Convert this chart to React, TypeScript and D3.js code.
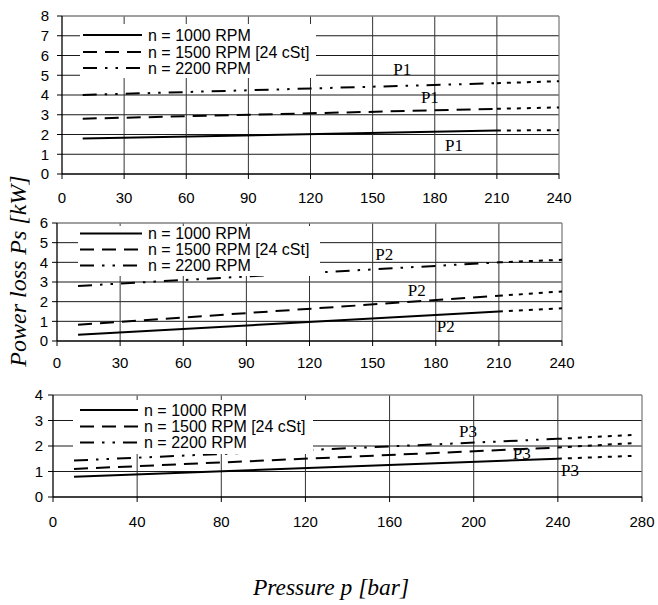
import React from "react";
import * as d3 from "d3";

// ---------- data ----------
const seriesNames = ["n = 1000 RPM", "n = 1500 RPM [24 cSt]", "n = 2200 RPM"];

// Panel 1 (P1)
const p1X = [10, 210];
const p1ExtX = [210, 240];
const p1_1000 = [1.8, 2.2];
const p1_1000Ext = [2.2, 2.22];
const p1_1500 = [2.8, 3.3];
const p1_1500Ext = [3.3, 3.37];
const p1_2200 = [4.0, 4.6];
const p1_2200Ext = [4.6, 4.7];
const p1XTicks = [0, 30, 60, 90, 120, 150, 180, 210, 240];
const p1YTicks = [0, 1, 2, 3, 4, 5, 6, 7, 8];
const p1Labels = [
  { text: "P1", x: 160, y: 5.0 },
  { text: "P1", x: 173.3, y: 3.59 },
  { text: "P1", x: 185, y: 1.18 },
];

// Panel 2 (P2)
const p2X = [10, 210];
const p2ExtX = [210, 240];
const p2_1000 = [0.32, 1.5];
const p2_1000Ext = [1.5, 1.66];
const p2_1500 = [0.83, 2.3];
const p2_1500Ext = [2.3, 2.52];
const p2_2200 = [2.8, 4.0];
const p2_2200Ext = [4.0, 4.13];
const p2XTicks = [0, 30, 60, 90, 120, 150, 180, 210, 240];
const p2YTicks = [0, 1, 2, 3, 4, 5, 6];
const p2Labels = [
  { text: "P2", x: 151.3, y: 4.13 },
  { text: "P2", x: 166.7, y: 2.3 },
  { text: "P2", x: 180.5, y: 0.44 },
];

// Panel 3 (P3)
const p3X = [10, 240];
const p3ExtX = [240, 275];
const p3_1000 = [0.79, 1.5];
const p3_1000Ext = [1.5, 1.61];
const p3_1500 = [1.1, 1.94];
const p3_1500Ext = [1.94, 2.11];
const p3_2200 = [1.43, 2.28];
const p3_2200Ext = [2.28, 2.43];
const p3XTicks = [0, 40, 80, 120, 160, 200, 240, 280];
const p3YTicks = [0, 1, 2, 3, 4];
const p3Labels = [
  { text: "P3", x: 193, y: 2.37 },
  { text: "P3", x: 218.6, y: 1.5 },
  { text: "P3", x: 241.5, y: 0.84 },
];

const yTitle = "Power loss Ps [kW]";
const xTitle = "Pressure p [bar]";

// ---------- styles ----------
const dashes = [null, "14 8", "14 8 2.5 8 2.5 8"];
const extDash = "4 6";

type Panel = {
  x0: number; x1: number; y0: number; y1: number;
  xMax: number; yMax: number;
  xTicks: number[]; yTicks: number[];
  xs: number[]; extXs: number[];
  series: number[][]; ext: number[][];
  labels: { text: string; x: number; y: number }[];
  yLabelX: number; xLabelDy: number;
  legend: { x0: number; x1: number; y0: number; y1: number; rows: number[]; lx0: number; lx1: number; tx: number };
};

const panels: Panel[] = [
  {
    x0: 62, x1: 559, y0: 16, y1: 174, xMax: 240, yMax: 8,
    xTicks: p1XTicks, yTicks: p1YTicks, xs: p1X, extXs: p1ExtX,
    series: [p1_1000, p1_1500, p1_2200], ext: [p1_1000Ext, p1_1500Ext, p1_2200Ext],
    labels: p1Labels, yLabelX: 49, xLabelDy: 29,
    legend: { x0: 80, x1: 316, y0: 24, y1: 78, rows: [35, 52, 68], lx0: 83, lx1: 142, tx: 148 },
  },
  {
    x0: 57, x1: 562, y0: 223, y1: 341, xMax: 240, yMax: 6,
    xTicks: p2XTicks, yTicks: p2YTicks, xs: p2X, extXs: p2ExtX,
    series: [p2_1000, p2_1500, p2_2200], ext: [p2_1000Ext, p2_1500Ext, p2_2200Ext],
    labels: p2Labels, yLabelX: 48, xLabelDy: 27,
    legend: { x0: 78, x1: 320, y0: 226, y1: 276, rows: [233.5, 249.5, 265.5], lx0: 80, lx1: 142, tx: 148 },
  },
  {
    x0: 53, x1: 642, y0: 395, y1: 497, xMax: 280, yMax: 4,
    xTicks: p3XTicks, yTicks: p3YTicks, xs: p3X, extXs: p3ExtX,
    series: [p3_1000, p3_1500, p3_2200], ext: [p3_1000Ext, p3_1500Ext, p3_2200Ext],
    labels: p3Labels, yLabelX: 43, xLabelDy: 30,
    legend: { x0: 73, x1: 313, y0: 400, y1: 454, rows: [410, 426.5, 442.5], lx0: 80, lx1: 138, tx: 144 },
  },
];

const sans = "'Liberation Sans', Arial, sans-serif";
const serif = "'Liberation Serif', 'Times New Roman', serif";

function PanelView({ p }: { p: Panel }) {
  const x = d3.scaleLinear().domain([0, p.xMax]).range([p.x0, p.x1]);
  const y = d3.scaleLinear().domain([0, p.yMax]).range([p.y1, p.y0]);
  const line = (xs: number[], ys: number[]) =>
    d3.line<number>().x((_, i) => x(xs[i])).y((d) => y(d))(ys) || "";
  const L = p.legend;
  return (
    <g>
      {p.yTicks.filter((t) => t > 0 && t < p.yMax).map((t) => (
        <line key={"gy" + t} x1={p.x0} x2={p.x1} y1={y(t)} y2={y(t)} stroke="#1a1a1a" strokeWidth={1} />
      ))}
      {p.xTicks.filter((t) => t > 0 && t < p.xMax).map((t) => (
        <line key={"gx" + t} x1={x(t)} x2={x(t)} y1={p.y0} y2={p.y1} stroke="#333" strokeWidth={1} />
      ))}
      <line x1={p.x0} x2={p.x1} y1={p.y0} y2={p.y0} stroke="#808080" strokeWidth={1.3} />
      <line x1={p.x1} x2={p.x1} y1={p.y0} y2={p.y1} stroke="#808080" strokeWidth={1.3} />
      {p.series.map((s, i) => (
        <path key={"s" + i} d={line(p.xs, s)} fill="none" stroke="#000" strokeWidth={2}
          strokeDasharray={dashes[i] || undefined} />
      ))}
      {p.ext.map((s, i) => (
        <path key={"e" + i} d={line(p.extXs, s)} fill="none" stroke="#000" strokeWidth={2}
          strokeDasharray={extDash} />
      ))}
      <rect x={L.x0} y={L.y0} width={L.x1 - L.x0} height={L.y1 - L.y0} fill="#fff" />
      {seriesNames.map((n, i) => (
        <g key={"l" + i}>
          <line x1={L.lx0} x2={L.lx1} y1={L.rows[i]} y2={L.rows[i]} stroke="#000" strokeWidth={2}
            strokeDasharray={dashes[i] || undefined} />
          <text x={L.tx} y={L.rows[i]} dy="0.36em" fontFamily={sans} fontSize={16} fill="#000">{n}</text>
        </g>
      ))}
      {p.labels.map((l, i) => (
        <text key={"p" + i} x={x(l.x)} y={y(l.y)} fontFamily={serif} fontSize={17} fill="#000">{l.text}</text>
      ))}
      <line x1={p.x0} x2={p.x0} y1={p.y0} y2={p.y1} stroke="#000" strokeWidth={1.3} />
      <line x1={p.x0} x2={p.x1} y1={p.y1} y2={p.y1} stroke="#000" strokeWidth={1.3} />
      {p.yTicks.map((t) => (
        <g key={"yt" + t}>
          <line x1={p.x0 - 5} x2={p.x0} y1={y(t)} y2={y(t)} stroke="#000" strokeWidth={1} />
          <text x={p.yLabelX} y={y(t)} dy="0.36em" textAnchor="end" fontFamily={sans} fontSize={15} fill="#000">{t}</text>
        </g>
      ))}
      {p.xTicks.map((t) => (
        <g key={"xt" + t}>
          <line x1={x(t)} x2={x(t)} y1={p.y1} y2={p.y1 + 5} stroke="#000" strokeWidth={1} />
          <text x={x(t)} y={p.y1 + p.xLabelDy} textAnchor="middle" fontFamily={sans} fontSize={15} fill="#000">{t}</text>
        </g>
      ))}
    </g>
  );
}

export default function App() {
  return (
    <svg width={658} height={605} style={{ position: "absolute", left: 0, top: 0, background: "#fff" }}>
      <rect x={0} y={0} width={658} height={605} fill="#fff" />
      {panels.map((p, i) => <PanelView key={i} p={p} />)}
      <text transform="translate(26,271) rotate(-90)" textAnchor="middle" fontFamily={serif}
        fontStyle="italic" fontSize={24} fill="#000">{yTitle}</text>
      <text x={331} y={595} textAnchor="middle" fontFamily={serif} fontStyle="italic" fontSize={23.5} fill="#000">{xTitle}</text>
    </svg>
  );
}
